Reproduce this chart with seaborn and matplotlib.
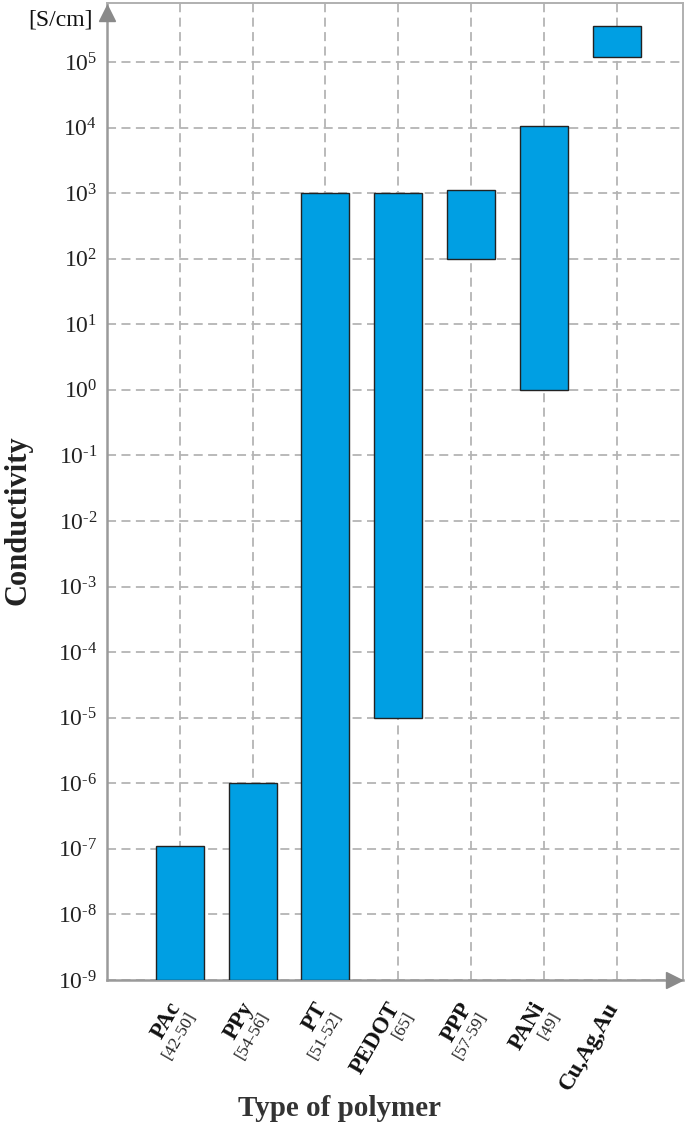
import numpy as np
import pandas as pd
import matplotlib
matplotlib.use("Agg")
import matplotlib.pyplot as plt
import seaborn as sns

# conductivity ranges (S/cm)
polymers = ['PAc', 'PPy', 'PT', 'PEDOT', 'PPP', 'PANi', 'Cu,Ag,Au']
refs = ['[42-50]', '[54-56]', '[51-52]', '[65]', '[57-59]', '[49]', '']
low = [1e-9, 1e-9, 1e-9, 1e-5, 1e2, 1e0, 1.2e5]
high = [1.1e-7, 1e-6, 1e3, 1e3, 1.1e3, 1.05e4, 3.6e5]
decades = list(range(-9, 6))

df = pd.DataFrame({'polymer': polymers, 'low': low, 'high': high})
df['span'] = df['high'] - df['low']

sns.set_style('white')
plt.rcParams['font.family'] = ['Liberation Serif', 'DejaVu Serif']
plt.rcParams['mathtext.fontset'] = 'custom'
plt.rcParams['mathtext.rm'] = 'Liberation Serif'
plt.rcParams['mathtext.it'] = 'Liberation Serif:italic'
plt.rcParams['mathtext.bf'] = 'Liberation Serif:bold'

axis_grey = '#9a9a9a'
grid_grey = '#b4b4b4'

fig = plt.figure(figsize=(6.85, 11.35), dpi=100)
ax = fig.add_axes([107 / 685, 1 - 980 / 1135, 576 / 685, 977 / 1135])
ax.set_yscale('log')

sns.barplot(data=df, x='polymer', y='span', bottom=df['low'].values,
            color='#009fe3', saturation=1, width=0.66,
            edgecolor='#222222', linewidth=1.0, ax=ax, zorder=3)

ax.set_xlim(-1.0, 6.91)
ax.set_ylim(1e-9, 10 ** 5.9)

# ticks like 10^-9 with a plain hyphen in the exponent
def decade_label(d):
    if d < 0:
        return r'$\mathregular{10^{\text{-}%d}}$' % (-d)
    return r'$\mathregular{10^{%d}}$' % d

ax.set_yticks([10.0 ** d for d in decades])
ax.set_yticklabels([decade_label(d) for d in decades], fontsize=17)
ax.yaxis.set_minor_locator(matplotlib.ticker.NullLocator())
for d in decades:
    ax.axhline(10.0 ** d, color=grid_grey, lw=1.3, ls=(0, (5, 3)), zorder=1)
for i in range(len(polymers)):
    ax.axvline(i, color=grid_grey, lw=1.3, ls=(0, (5, 3)), zorder=1)

ax.tick_params(axis='y', length=4, width=1, color=axis_grey, pad=3, labelcolor='#222222')
ax.tick_params(axis='x', length=0, labelbottom=False)
ax.set_xlabel('')
ax.set_ylabel('')

for side in ['left', 'bottom']:
    ax.spines[side].set_color(axis_grey)
    ax.spines[side].set_linewidth(1.8)
for side in ['top', 'right']:
    ax.spines[side].set_color('#b0b0b0')
    ax.spines[side].set_linewidth(1.4)

# arrow heads on the axes
ax.plot(0.985, 0, marker='>', ms=12, color='#8a8a8a', transform=ax.transAxes,
        clip_on=False, zorder=5)
ax.plot(0, 0.99, marker='^', ms=12, color='#8a8a8a', transform=ax.transAxes,
        clip_on=False, zorder=5)

# category labels: bold name with reference below, rotated
trans = matplotlib.transforms.blended_transform_factory(ax.transData, ax.transAxes)
for i, (name, ref) in enumerate(zip(polymers, refs)):
    ax.text(i + 0.08, -0.03, name, transform=trans, rotation=60,
            rotation_mode='anchor', ha='right', va='bottom',
            fontsize=16.5, fontweight='bold', color='#111111')
    if ref:
        ax.text(i + 0.08, -0.03, ref, transform=trans, rotation=60,
                rotation_mode='anchor', ha='right', va='top',
                fontsize=12.5, color='#222222')

fig.text(18 / 685, 1 - 520 / 1135, 'Conductivity', rotation=90, ha='center',
         va='center', fontsize=22, fontweight='bold', color='#222222')
fig.text(340 / 685, 1 - 1108 / 1135, 'Type of polymer', ha='center', va='center',
         fontsize=21, fontweight='bold', color='#333333')
fig.text(60 / 685, 1 - 20 / 1135, '[S/cm]', ha='center', va='center',
         fontsize=17, color='#111111')

fig.savefig('out.png', dpi=100)
